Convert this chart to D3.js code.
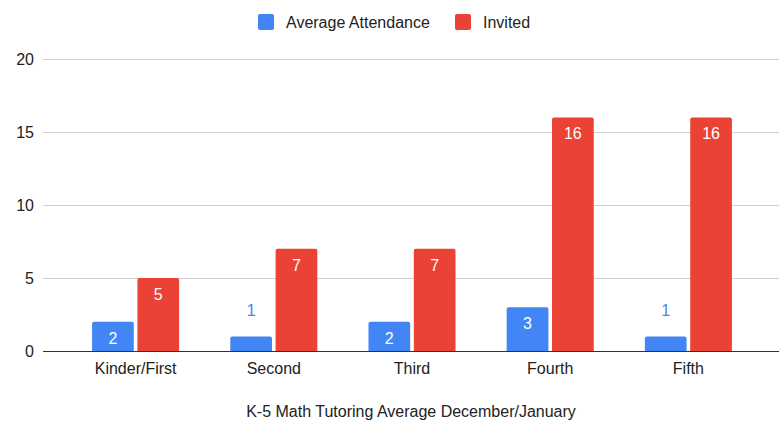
<!DOCTYPE html>
<html><head><meta charset="utf-8">
<script src="https://cdn.jsdelivr.net/npm/d3@7"></script>
<style>body{margin:0;background:#fff;}svg{display:block;font-family:Arial,"Liberation Sans",sans-serif;}</style>
</head><body>
<script>
const categories = ["Kinder/First","Second","Third","Fourth","Fifth"];
const seriesNames = ["Average Attendance","Invited"];
const attendance = [2,1,2,3,1];
const invited = [5,7,7,16,16];
const yTicks = [0,5,10,15,20];
const colors = ["#4285F4","#EA4335"];
const xTitle = "K-5 Math Tutoring Average December/January";

const W=779,H=422;
const FS=16;
const svg=d3.select("body").append("svg").attr("width",W).attr("height",H);
const y=d3.scaleLinear().domain([0,20]).range([351,59]);
const x0=d3.scaleBand().domain(categories).range([66.5,757.5]).paddingInner(0.37).paddingOuter(0.185);
const x1=d3.scaleBand().domain(seriesNames).range([0,x0.bandwidth()]).paddingInner(0.08);
const gridL=43,gridR=779;

svg.append("g").selectAll("line").data(yTicks.filter(d=>d>0)).join("line")
  .attr("x1",gridL).attr("x2",gridR).attr("y1",d=>y(d)).attr("y2",d=>y(d))
  .attr("stroke","#d0d0d0").attr("stroke-width",1).attr("shape-rendering","crispEdges");
const yAxis=d3.axisLeft(y).tickValues(yTicks).tickSize(0).tickPadding(0);
const ya=svg.append("g").attr("transform","translate(34,0)").call(yAxis);
ya.select(".domain").remove();
ya.selectAll("text").attr("font-size",FS).attr("fill","#222").attr("font-family","Arial,'Liberation Sans',sans-serif");

const data=categories.map((c,i)=>({cat:c,vals:[attendance[i],invited[i]]}));
function roundTop(x,yTop,w,h,r){
  r=Math.min(r,h);
  return `M${x},${yTop+h}V${yTop+r}Q${x},${yTop} ${x+r},${yTop}H${x+w-r}Q${x+w},${yTop} ${x+w},${yTop+r}V${yTop+h}Z`;
}
const groups=svg.append("g").selectAll("g").data(data).join("g")
  .attr("transform",d=>`translate(${x0(d.cat)},0)`);
groups.selectAll("path").data(d=>d.vals.map((v,j)=>({s:seriesNames[j],v,j}))).join("path")
  .attr("d",d=>roundTop(x1(d.s),y(d.v),x1.bandwidth(),y(0)-y(d.v),2))
  .attr("fill",d=>colors[d.j]);
groups.selectAll("text").data(d=>d.vals.map((v,j)=>({s:seriesNames[j],v,j}))).join("text")
  .attr("x",d=>x1(d.s)+x1.bandwidth()/2)
  .attr("y",d=>{const h=y(0)-y(d.v); return h>25? y(d.v)+22 : y(d.v)-20;})
  .attr("text-anchor","middle").attr("font-size",FS)
  .attr("fill",d=>(y(0)-y(d.v))>25?"#fff":colors[d.j])
  .text(d=>d.v);

svg.append("line").attr("x1",gridL).attr("x2",gridR).attr("y1",y(0)).attr("y2",y(0))
  .attr("stroke","#333").attr("stroke-width",1).attr("shape-rendering","crispEdges");

const xAxis=d3.axisBottom(x0).tickSize(0).tickPadding(0);
const xa=svg.append("g").attr("transform",`translate(0,${y(0)})`).call(xAxis);
xa.select(".domain").remove();
xa.selectAll("text").attr("font-size",FS).attr("fill","#222").attr("dy","0").attr("y",23)
  .attr("font-family","Arial,'Liberation Sans',sans-serif");

svg.append("text").attr("x",411).attr("y",417).attr("text-anchor","middle")
  .attr("font-size",FS).attr("fill","#222").text(xTitle);

const legend=svg.append("g");
const lx=[258,455];
seriesNames.forEach((s,i)=>{
  legend.append("rect").attr("x",lx[i]).attr("y",14).attr("width",16).attr("height",16).attr("rx",2).attr("fill",colors[i]);
  legend.append("text").attr("x",lx[i]+28).attr("y",28).attr("font-size",FS).attr("fill","#222").text(s);
});
</script>
</body></html>
